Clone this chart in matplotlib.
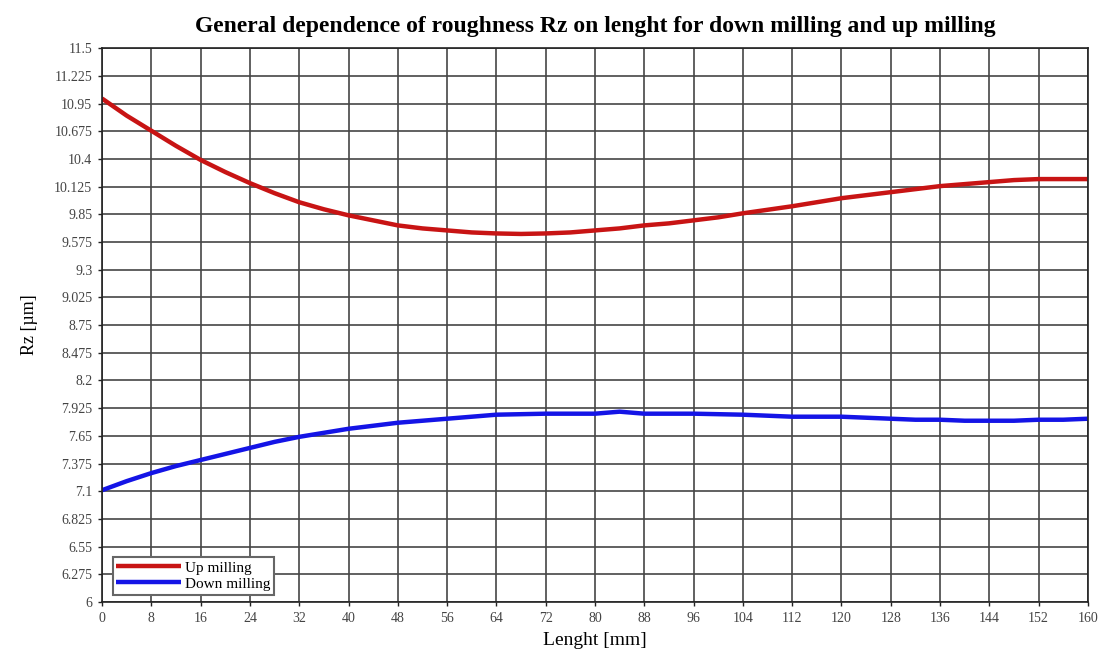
import numpy as np
import matplotlib
matplotlib.use("Agg")
from matplotlib import pyplot as plt

# Rz roughness along the milled length, sampled every 4 mm
length_mm = list(range(0, 161, 4))
up_milling = [11.00, 10.83, 10.68, 10.53, 10.39, 10.27, 10.16, 10.06, 9.97, 9.90,
              9.84, 9.79, 9.74, 9.71, 9.69, 9.67, 9.66, 9.655, 9.66, 9.67,
              9.69, 9.71, 9.74, 9.76, 9.79, 9.82, 9.86, 9.895, 9.93, 9.97,
              10.01, 10.04, 10.07, 10.10, 10.13, 10.15, 10.17, 10.19, 10.20, 10.20,
              10.20]
down_milling = [7.11, 7.20, 7.28, 7.35, 7.41, 7.47, 7.53, 7.59, 7.64, 7.68,
                7.72, 7.75, 7.78, 7.80, 7.82, 7.84, 7.86, 7.865, 7.87, 7.87,
                7.87, 7.89, 7.87, 7.87, 7.87, 7.865, 7.86, 7.85, 7.84, 7.84,
                7.84, 7.83, 7.82, 7.81, 7.81, 7.80, 7.80, 7.80, 7.81, 7.81,
                7.82]

x_ticks = list(range(0, 161, 8))
y_ticks = [6, 6.275, 6.55, 6.825, 7.1, 7.375, 7.65, 7.925, 8.2, 8.475, 8.75,
           9.025, 9.3, 9.575, 9.85, 10.125, 10.4, 10.675, 10.95, 11.225, 11.5]
y_labels = ["6", "6.275", "6.55", "6.825", "7.1", "7.375", "7.65", "7.925", "8.2",
            "8.475", "8.75", "9.025", "9.3", "9.575", "9.85", "10.125", "10.4",
            "10.675", "10.95", "11.225", "11.5"]

plt.rcParams['font.family'] = ['Liberation Serif', 'DejaVu Serif']

fig = plt.figure(figsize=(11.09, 6.51), dpi=100)
ax = fig.add_axes([0.092, 0.0753, 0.889, 0.8507])

ax.plot(length_mm, up_milling, color="#c81414", lw=3.2, label="Up milling",
        solid_capstyle="butt")
ax.plot(length_mm, down_milling, color="#1414e6", lw=3.2, label="Down milling",
        solid_capstyle="butt")

ax.set_xlim(0, 160)
ax.set_ylim(6, 11.5)
ax.set_xticks(x_ticks)
ax.set_yticks(y_ticks)
ax.set_yticklabels(y_labels)
ax.tick_params(axis="both", labelsize=10, colors="#222222", length=3,
               width=1, pad=4)
for lab in ax.get_xticklabels() + ax.get_yticklabels():
    lab.set_color("#444444")

ax.grid(True, color="#454545", lw=1.2)
ax.set_axisbelow(True)
for sp in ax.spines.values():
    sp.set_color("#222222")
    sp.set_linewidth(1.2)

ax.set_title("General dependence of roughness Rz on lenght for down milling and up milling",
             fontsize=17, fontweight="bold", pad=12)
ax.set_xlabel("Lenght [mm]", fontsize=14, labelpad=5)
ax.set_ylabel("Rz [µm]", fontsize=13, labelpad=12)

leg = ax.legend(loc="lower left", bbox_to_anchor=(0.006, 0.005), fontsize=11,
                handlelength=4.2, handletextpad=0.3, borderpad=0.25,
                labelspacing=0.15, fancybox=False, framealpha=1,
                edgecolor="#666666", borderaxespad=0.3)
leg.get_frame().set_linewidth(1.5)

plt.savefig("out.png", dpi=100)
